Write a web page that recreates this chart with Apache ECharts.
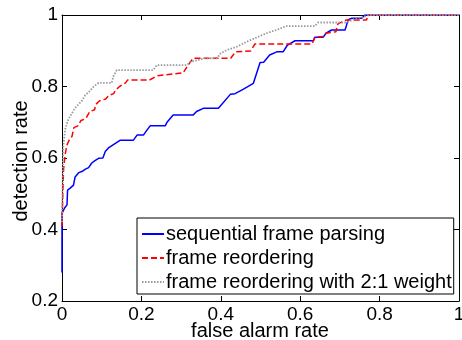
<!DOCTYPE html>
<html>
<head>
<meta charset="utf-8">
<script src="https://cdn.jsdelivr.net/npm/echarts@6/dist/echarts.min.js"></script>
<style>
  html, body { margin: 0; padding: 0; background: #fff; }
  #chart { width: 462px; height: 340px; }
</style>
</head>
<body>
<div id="chart"></div>
<script>
// ROC curves
const seriesNames = ['sequential frame parsing', 'frame reordering', 'frame reordering with 2:1 weight'];
const xName = 'false alarm rate';
const yName = 'detection rate';

const seqX = [0, 0, 0.0065, 0.0126, 0.014, 0.02, 0.023, 0.029, 0.033, 0.042, 0.05, 0.059, 0.067, 0.075, 0.082, 0.092, 0.103, 0.109, 0.117, 0.147, 0.18, 0.189, 0.205, 0.214, 0.222, 0.26, 0.264, 0.28, 0.33, 0.339, 0.356, 0.394, 0.424, 0.436, 0.456, 0.482, 0.499, 0.508, 0.523, 0.541, 0.557, 0.568, 0.587, 0.633, 0.637, 0.658, 0.665, 0.679, 0.713, 0.721, 0.73, 0.755, 0.763, 1];
const seqY = [0.28, 0.446, 0.46, 0.469, 0.51, 0.515, 0.519, 0.524, 0.547, 0.559, 0.562, 0.569, 0.573, 0.586, 0.592, 0.599, 0.6, 0.618, 0.628, 0.65, 0.65, 0.664, 0.664, 0.678, 0.69, 0.69, 0.699, 0.72, 0.72, 0.73, 0.739, 0.739, 0.778, 0.78, 0.792, 0.809, 0.867, 0.868, 0.888, 0.897, 0.897, 0.916, 0.928, 0.928, 0.938, 0.938, 0.949, 0.958, 0.958, 0.987, 0.991, 0.991, 1, 1];

const reorderX = [0, 0.002, 0.004, 0.008, 0.012, 0.018, 0.025, 0.03, 0.04, 0.048, 0.06, 0.07, 0.082, 0.085, 0.095, 0.11, 0.118, 0.13, 0.135, 0.145, 0.16, 0.165, 0.22, 0.24, 0.305, 0.318, 0.33, 0.425, 0.437, 0.475, 0.486, 0.63, 0.637, 0.66, 0.665, 0.69, 0.692, 0.695, 0.716, 0.767, 0.771, 1];
const reorderY = [0.41, 0.5, 0.57, 0.61, 0.635, 0.65, 0.66, 0.685, 0.69, 0.705, 0.71, 0.73, 0.735, 0.75, 0.76, 0.765, 0.775, 0.78, 0.79, 0.8, 0.81, 0.818, 0.818, 0.83, 0.838, 0.86, 0.879, 0.879, 0.897, 0.899, 0.919, 0.919, 0.938, 0.94, 0.949, 0.953, 0.963, 0.975, 0.986, 0.986, 1, 1];

const weightX = [0, 0.002, 0.003, 0.008, 0.015, 0.022, 0.033, 0.05, 0.058, 0.068, 0.08, 0.092, 0.125, 0.13, 0.138, 0.23, 0.239, 0.315, 0.323, 0.36, 0.39, 0.4, 0.415, 0.44, 0.465, 0.49, 0.515, 0.54, 0.565, 0.637, 0.645, 0.716, 0.74, 0.76, 0.775, 1];
const weightY = [0.42, 0.56, 0.63, 0.68, 0.705, 0.72, 0.74, 0.76, 0.775, 0.785, 0.8, 0.81, 0.81, 0.83, 0.846, 0.846, 0.86, 0.86, 0.869, 0.879, 0.879, 0.893, 0.902, 0.911, 0.925, 0.937, 0.949, 0.958, 0.969, 0.969, 0.979, 0.979, 0.99, 0.995, 1, 1];

const xTicks = [0, 0.2, 0.4, 0.6, 0.8, 1];
const yTicks = [0.2, 0.4, 0.6, 0.8, 1];

const font = "'Liberation Sans', Arial, sans-serif";
const pairs = (xs, ys) => xs.map((x, i) => [x, ys[i]]);
const fmt = v => (Math.abs(v - Math.round(v)) < 1e-9 ? String(Math.round(v)) : (+v).toFixed(1));

const axisBase = {
  type: 'value',
  axisLine: { show: true, onZero: false, lineStyle: { color: '#000', width: 1 } },
  axisTick: { show: true, inside: true, length: 5, lineStyle: { color: '#000' } },
  splitLine: { show: false },
};

const chart = echarts.init(document.getElementById('chart'));
chart.setOption({
  animation: false,
  backgroundColor: '#fff',
  textStyle: { fontFamily: font },
  grid: { left: 62, right: 3, top: 15, bottom: 39, containLabel: false, outerBoundsMode: 'none' },
  xAxis: [
    {
      ...axisBase, position: 'bottom', min: xTicks[0], max: xTicks[xTicks.length - 1], interval: 0.2,
      axisLabel: { fontFamily: font, fontSize: 19, color: '#000', margin: 4, formatter: fmt },
    },
    {
      ...axisBase, position: 'top', min: xTicks[0], max: xTicks[xTicks.length - 1], interval: 0.2,
      axisLabel: { show: false },
    },
  ],
  yAxis: [
    {
      ...axisBase, position: 'left', min: yTicks[0], max: yTicks[yTicks.length - 1], interval: 0.2,
      axisLabel: { fontFamily: font, fontSize: 19, color: '#000', margin: 4, formatter: fmt },
    },
    {
      ...axisBase, position: 'right', min: yTicks[0], max: yTicks[yTicks.length - 1], interval: 0.2,
      axisLabel: { show: false },
    },
  ],
  // axis titles
  graphic: [
    {
      type: 'text', x: 260, y: 331,
      style: { text: xName, font: `20px ${font}`, fill: '#000', align: 'center', verticalAlign: 'middle' },
    },
    {
      type: 'text', x: 21, y: 161, rotation: Math.PI / 2,
      style: { text: yName, font: `20px ${font}`, fill: '#000', align: 'center', verticalAlign: 'middle' },
    },
  ],
  legend: {
    orient: 'vertical',
    left: 137, top: 218,
    padding: [6, 2, 2, 4],
    itemWidth: 22, itemHeight: 14, itemGap: 4,
    backgroundColor: '#fff',
    borderColor: '#000', borderWidth: 1,
    itemStyle: { opacity: 0 },
    textStyle: { fontFamily: font, fontSize: 20, color: '#000', padding: [0, 0, 0, -3], lineHeight: 20 },
    data: seriesNames,
  },
  series: [
    {
      name: seriesNames[0], type: 'line', symbol: 'none', z: 3,
      lineStyle: { color: '#0000ff', width: 1.5 },
      itemStyle: { color: '#0000ff' },
      data: pairs(seqX, seqY),
    },
    {
      name: seriesNames[1], type: 'line', symbol: 'none', z: 4,
      lineStyle: { color: '#ff0000', width: 1.5, type: [6, 3] },
      itemStyle: { color: '#ff0000' },
      data: pairs(reorderX, reorderY),
    },
    {
      name: seriesNames[2], type: 'line', symbol: 'none', z: 5,
      lineStyle: { color: '#999999', width: 1.8, type: [1.5, 1.5] },
      itemStyle: { color: '#999999' },
      data: pairs(weightX, weightY),
    },
  ],
});
</script>
</body>
</html>
